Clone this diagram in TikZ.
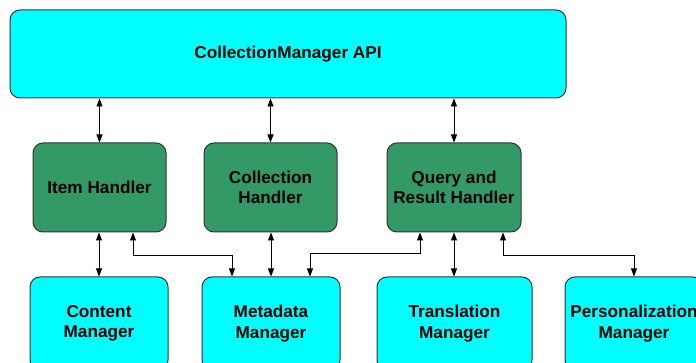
\documentclass[tikz,border=0pt]{standalone}
\usepackage{fontspec}
\setmainfont{Liberation Sans}
\usetikzlibrary{arrows.meta}
\definecolor{boxcyan}{HTML}{00FFFF}
\definecolor{boxgreen}{HTML}{339966}
\definecolor{edge}{HTML}{333333}
\begin{document}
\begin{tikzpicture}[x=1pt,y=-1pt,
  box/.style={draw=edge,line width=1pt,rounded corners=10pt,inner sep=0pt,align=center,
    font=\fontsize{17.2}{20.5}\selectfont\bfseries,text=black},
  api/.style={box,fill=boxcyan,minimum width=556pt,minimum height=88pt},
  handler/.style={box,fill=boxgreen,minimum height=89pt},
  manager/.style={box,fill=boxcyan,minimum height=93pt},
  dbl/.style={line width=0.9pt,{Triangle[length=8pt,width=6pt]}-{Triangle[length=8pt,width=6pt]}}]
\useasboundingbox (0,0) rectangle (696,363);
\clip (0,0) rectangle (696,363);
\node[api] (api) at (288,54) {CollectionManager API};
\node[handler,minimum width=133pt] (item) at (99.5,187.5) {Item Handler};
\node[handler,minimum width=133pt] (coll) at (270.5,187.5) {Collection\\Handler};
\node[handler,minimum width=134pt] (query) at (454,187.5) {Query and\\Result Handler};
\node[manager,minimum width=138pt] (content) at (99,323.5) {Content\\Manager};
\node[manager,minimum width=138pt] (meta) at (271,323.5) {Metadata\\Manager};
\node[manager,minimum width=155pt] (trans) at (454.5,323.5) {Translation\\Manager};
\node[manager,minimum width=138pt] (perso) at (634,323.5) {Personalization\\Manager};
% API to handlers
\draw[dbl] (api.south -| item.south) -- (item.north);
\draw[dbl] (api.south -| coll.south) -- (coll.north);
\draw[dbl] (api.south -| query.south) -- (query.north);
% handlers to managers
\draw[dbl] (item.south -| content.north) -- (content.north);
\draw[dbl] ([xshift=33.5pt]item.south) -- ++(0,23) -| ([xshift=-39pt]meta.north);
\draw[dbl] (coll.south -| meta.north) -- (meta.north);
\draw[dbl] ([xshift=-34pt]query.south) -- ++(0,21) -| ([xshift=39pt]meta.north);
\draw[dbl] (query.south) -- (query.south |- trans.north);
\draw[dbl] ([xshift=49pt]query.south) -- ++(0,23) -| (perso.north);
\end{tikzpicture}
\end{document}
